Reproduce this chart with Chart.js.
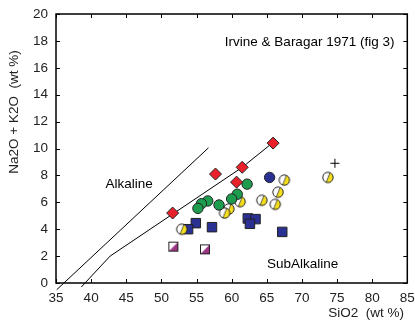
<!DOCTYPE html>
<html>
<head>
<meta charset="utf-8">
<script src="https://cdn.jsdelivr.net/npm/chart.js@4.4.0/dist/chart.umd.min.js"></script>
<style>
body { margin: 0; background: #fff; }
#wrap { width: 415px; height: 329px; }
</style>
</head>
<body>
<div id="wrap"><canvas id="tas" width="415" height="329"></canvas></div>
<script>
// TAS diagram (Irvine & Baragar 1971)
const redDiamonds = [[65.9, 10.4], [61.5, 8.6], [57.7, 8.1], [60.7, 7.5], [51.6, 5.2]]
const greenCircles = [[62.2, 7.35], [60.8, 6.6], [60.0, 6.25], [56.6, 6.1], [55.7, 5.9], [58.2, 5.8], [55.2, 5.55]]
const navyCircles = [[65.4, 7.85]]
const yellowHalf = [[67.5, 7.65], [73.7, 7.85], [66.6, 6.75], [64.3, 6.15], [66.2, 5.85], [61.2, 6.05], [59.6, 5.5], [59.0, 5.2], [52.9, 4.0]]
const blueSquares = [[54.9, 4.45], [53.8, 4.0], [57.2, 4.15], [62.3, 4.8], [63.4, 4.75], [62.6, 4.4], [67.2, 3.8]]
const purpleHalf = [[51.7, 2.7], [56.2, 2.5]]
const crossPoint = [[74.7, 8.9]]

const alkalineLine = [[35.1, -0.5], [56.7, 10.05]]
const irvineLine = [[38.6, -0.3], [42.7, 2.0], [61.5, 8.6], [65.9, 10.45]]

const noteText = ['Irvine & Baragar 1971 (fig 3)', 'Alkaline', 'SubAlkaline']
const noteX = [71.1, 45.4, 70.1]
const noteY = [17.9, 7.35, 1.4]

const xTitle = 'SiO2  (wt %)'
const yTitle = 'Na2O + K2O  (wt %)'

const FONT = '"Liberation Sans", Arial, sans-serif'

let pts = (arr) => arr.map(p => ({ x: p[0], y: p[1] }))

// half white / half yellow circle
let halfCircle = () => {
    const c = document.createElement('canvas')
    c.width = 14
    c.height = 14
    const g = c.getContext('2d')
    const cx = 7, cy = 7, r = 5.2
    g.beginPath()
    g.arc(cx, cy, r, 0, Math.PI * 2)
    g.fillStyle = '#fff'
    g.fill()
    g.save()
    g.clip()
    g.beginPath()
    g.moveTo(cx + 3, cy - 7)
    g.lineTo(cx + 8, cy - 7)
    g.lineTo(cx + 8, cy + 8)
    g.lineTo(cx - 3, cy + 8)
    g.closePath()
    g.fillStyle = '#f6e01c'
    g.fill()
    g.beginPath()
    g.moveTo(cx + 3, cy - 7)
    g.lineTo(cx - 3, cy + 8)
    g.strokeStyle = '#333'
    g.lineWidth = 0.8
    g.stroke()
    g.restore()
    g.beginPath()
    g.arc(cx, cy, r, 0, Math.PI * 2)
    g.strokeStyle = '#222'
    g.lineWidth = 1
    g.stroke()
    return c
}

// white square with purple lower-right triangle
let halfSquare = () => {
    const c = document.createElement('canvas')
    c.width = 12
    c.height = 12
    const g = c.getContext('2d')
    g.fillStyle = '#fff'
    g.fillRect(1.5, 1.5, 9, 9)
    g.beginPath()
    g.moveTo(10.5, 1.5)
    g.lineTo(10.5, 10.5)
    g.lineTo(1.5, 10.5)
    g.closePath()
    g.fillStyle = '#9c3582'
    g.fill()
    g.strokeStyle = '#222'
    g.lineWidth = 1
    g.strokeRect(1.5, 1.5, 9, 9)
    return c
}

let decor = {
    id: 'decor',
    afterDatasetsDraw(chart) {
        const { ctx, chartArea: a, scales: { x, y } } = chart
        ctx.save()
        ctx.strokeStyle = '#000'
        ctx.lineWidth = 1.5
        ctx.strokeRect(a.left, a.top, a.right - a.left, a.bottom - a.top)
        ctx.lineWidth = 1
        ctx.beginPath()
        x.ticks.forEach(t => {
            const px = Math.round(x.getPixelForValue(t.value)) + 0.5
            ctx.moveTo(px, a.bottom)
            ctx.lineTo(px, a.bottom - 4)
            ctx.moveTo(px, a.top)
            ctx.lineTo(px, a.top + 4)
        })
        y.ticks.forEach(t => {
            const py = Math.round(y.getPixelForValue(t.value)) + 0.5
            ctx.moveTo(a.left, py)
            ctx.lineTo(a.left + 4, py)
            ctx.moveTo(a.right, py)
            ctx.lineTo(a.right - 4, py)
        })
        ctx.stroke()

        ctx.fillStyle = '#000'
        ctx.font = '13.5px ' + FONT
        ctx.textAlign = 'center'
        ctx.textBaseline = 'middle'
        noteText.forEach((t, i) => {
            ctx.fillText(t, x.getPixelForValue(noteX[i]), y.getPixelForValue(noteY[i]))
        })

        ctx.fillStyle = '#222'
        ctx.textAlign = 'right'
        ctx.fillText(xTitle, 404, 313)
        ctx.translate(14, 112)
        ctx.rotate(-Math.PI / 2)
        ctx.textAlign = 'center'
        ctx.fillText(yTitle, 0, 0)
        ctx.restore()
    }
}

let marker = (label, data, style, radius, fill) => ({
    label: label,
    data: pts(data),
    pointStyle: style,
    pointRadius: radius,
    pointBackgroundColor: fill,
    pointBorderColor: '#222',
    pointBorderWidth: 1,
    showLine: false,
    order: 1
})

const datasets = [
    marker('red', redDiamonds, 'rectRot', 6, '#e8212b'),
    marker('green', greenCircles, 'circle', 5.2, '#1d9c4e'),
    marker('navy', navyCircles, 'circle', 5.2, '#2b3192'),
    marker('yellow', yellowHalf, halfCircle(), 6, '#f6e01c'),
    marker('blue', blueSquares, 'rect', 6.7, '#2b3192'),
    marker('purple', purpleHalf, halfSquare(), 6, '#9c3582'),
    {
        label: 'cross',
        data: pts(crossPoint),
        pointStyle: 'cross',
        pointRadius: 4.5,
        pointBorderColor: '#000',
        pointBorderWidth: 1,
        showLine: false,
        order: 1
    },
    {
        label: 'alkaline',
        data: pts(alkalineLine),
        showLine: true,
        borderColor: '#000',
        borderWidth: 1,
        pointRadius: 0,
        clip: false,
        order: 5
    },
    {
        label: 'irvine',
        data: pts(irvineLine),
        showLine: true,
        borderColor: '#000',
        borderWidth: 1,
        pointRadius: 0,
        clip: false,
        order: 5
    }
]

const tickFont = { family: FONT, size: 13.5 }

new Chart(document.getElementById('tas'), {
    type: 'scatter',
    data: { datasets: datasets },
    options: {
        responsive: false,
        animation: false,
        devicePixelRatio: 1,
        events: [],
        layout: { padding: { top: 14, right: 0, left: 0, bottom: 0 } },
        plugins: { legend: { display: false }, tooltip: { enabled: false } },
        scales: {
            x: {
                type: 'linear',
                min: 35,
                max: 85,
                afterFit: (s) => { s.height = 46; s.paddingRight = 7; s.paddingLeft = 0 },
                grid: { display: false, drawTicks: false },
                border: { display: false },
                ticks: { stepSize: 5, autoSkip: false, maxRotation: 0, padding: 7, color: '#222', font: tickFont }
            },
            y: {
                type: 'linear',
                min: 0,
                max: 20,
                afterFit: (s) => { s.width = 56; s.paddingTop = 0; s.paddingBottom = 0 },
                grid: { display: false, drawTicks: false },
                border: { display: false },
                ticks: { stepSize: 2, autoSkip: false, padding: 8, color: '#222', font: tickFont }
            }
        }
    },
    plugins: [decor]
})
</script>
</body>
</html>
